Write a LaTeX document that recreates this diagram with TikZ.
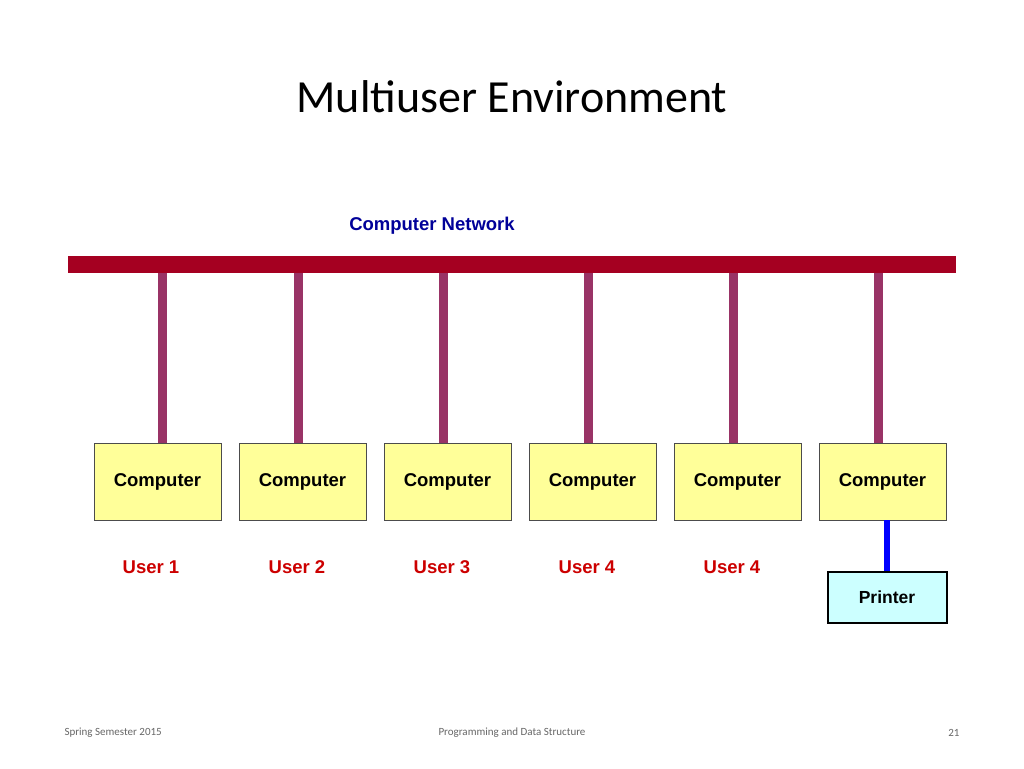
\documentclass[tikz,border=0pt]{standalone}
\usepackage{fontspec}
\setmainfont{Liberation Sans}
\newfontfamily\calfont{Carlito}
\definecolor{compfill}{RGB}{255,255,153}
\definecolor{dropcol}{RGB}{153,51,102}
\definecolor{usercol}{RGB}{204,0,0}
\definecolor{netcol}{RGB}{0,0,153}
\definecolor{barcol}{RGB}{165,0,33}
\definecolor{prfill}{RGB}{204,255,255}
\begin{document}
\begin{tikzpicture}[x=1pt,y=-1pt,
  comp/.style={draw=black!70,line width=0.6pt,fill=compfill,minimum width=127pt,minimum height=77pt,inner sep=0pt,font=\bfseries\fontsize{18.5}{20}\selectfont},
  drop/.style={line width=9pt,draw=dropcol},
  user/.style={font=\bfseries\fontsize{18.5}{20}\selectfont,text=usercol},
  foot/.style={font=\calfont\fontsize{11}{13}\selectfont,text=black!60}]
\useasboundingbox (0,0) rectangle (1024,768);
\node[font=\calfont\fontsize{46}{50}\selectfont] (title) at (512,97) {Multiuser Environment};
\node[font=\bfseries\fontsize{18.5}{20}\selectfont,text=netcol] (net) at (432,226) {Computer Network};
\fill[barcol] (68,256) rectangle (956,273);
\foreach \i/\x/\bx in {1/162/157.5,2/298/302.5,3/443/447.5,4/588/592.5,5/733/737.5,6/878/882.5}{
  \coordinate (t\i) at (\x,273);
  \node[comp] (c\i) at (\bx,481.5) {Computer};
  \draw[drop] (t\i) -- (\x,443);
}
\foreach \i/\ux/\t in {1/151/User 1,2/297/User 2,3/442/User 3,4/587/User 4,5/732/User 4}{
  \node[user] (u\i) at (\ux,567) {\t};
}
\node[draw,line width=2pt,fill=prfill,minimum width=119pt,minimum height=51pt,inner sep=0pt,font=\bfseries\fontsize{17.5}{20}\selectfont] (p) at (887,597) {Printer};
\draw[line width=6pt,blue] (887,520) -- (p.north);
\node[foot,anchor=west] (f1) at (61,733) {Spring Semester 2015};
\node[foot] (f2) at (512,733) {Programming and Data Structure};
\node[foot,anchor=east] (f3) at (963,733) {21};
\end{tikzpicture}
\end{document}
